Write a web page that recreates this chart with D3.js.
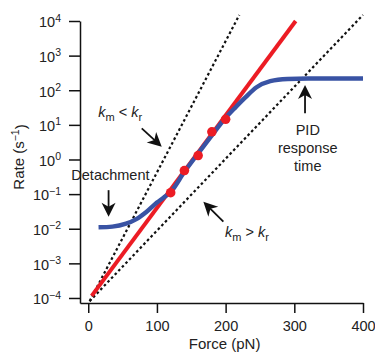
<!DOCTYPE html>
<html>
<head>
<meta charset="utf-8">
<script src="https://cdn.jsdelivr.net/npm/d3@7"></script>
<style>
  body { margin: 0; background: #fff; }
  svg { display: block; font-family: "Liberation Sans", Arial, Helvetica, sans-serif; }
</style>
</head>
<body>
<div id="chart"></div>
<script>
let w = 375;
let h = 354;

let forceTicks = [0, 100, 200, 300, 400];
let rateExps = [-4, -3, -2, -1, 0, 1, 2, 3, 4];

// measured rates (red dots)
let dotForce = [120, 140, 160, 180, 200];
let dotRate = [0.11, 0.48, 1.3, 6.3, 14.5];

// exponential fit through the dots
let fitForce = [5, 302];
let fitRate = [1.15e-4, 1.0e4];

// limiting cases
let fastForce = [2, 220];     // km < kr
let fastRate = [8.1e-5, 1.5e4];
let slowForce = [2, 400];     // km > kr
let slowRate = [8.1e-5, 1.5e4];

// observed rate with detachment floor and PID ceiling
let obsForce = [15, 35, 55, 70, 85, 100, 110, 120, 140, 160, 180, 200, 215, 228, 245, 265, 290, 320, 400];
let obsRate = [0.011, 0.0115, 0.014, 0.019, 0.031, 0.057, 0.08, 0.115, 0.44, 1.5, 5.0, 16, 33, 60, 122, 183, 212, 218, 218];

const svg = d3.select("#chart")
              .append("svg")
              .attr("width", w)
              .attr("height", h)

const x = d3.scaleLinear()
            .domain([-12, 400])
            .range([80, 363])

const y = d3.scaleLog()
            .domain([Math.pow(10, -4.145), 1e4])
            .range([303, 21])

// axes
const xAxis = d3.axisBottom(x)
                .tickValues(forceTicks)
                .tickSize(10)
                .tickSizeOuter(0)
                .tickPadding(8)

const gx = svg.append("g")
   .attr("transform", "translate(0," + y.range()[0] + ")")
   .call(xAxis)
gx.selectAll("text").style("font-size", "14.5px").attr("fill", "#222")

const yAxis = d3.axisLeft(y)
                .tickValues(rateExps.map(e => Math.pow(10, e)))
                .tickSize(11)
                .tickSizeOuter(0)
                .tickPadding(8)
                .tickFormat(() => "")

const gy = svg.append("g")
   .attr("transform", "translate(" + x.range()[0] + ",0)")
   .call(yAxis)

gy.selectAll(".tick text")
  .style("font-size", "14.5px")
  .attr("fill", "#222")
  .attr("dy", "0.4em")
  .each(function(d) {
    let e = Math.round(Math.log10(d));
    let t = d3.select(this);
    t.append("tspan").text("10");
    t.append("tspan")
     .attr("dy", "-0.55em")
     .style("font-size", "10.5px")
     .text(e < 0 ? "\u2212" + (-e) : e);
  })

svg.selectAll(".domain, .tick line")
   .attr("stroke", "#111")
   .attr("stroke-width", 1.5)

// axis titles
svg.append("text")
   .attr("x", x(200) - 1)
   .attr("y", 349)
   .attr("text-anchor", "middle")
   .style("font-size", "15px")
   .attr("fill", "#222")
   .text("Force (pN)")

const yl = svg.append("text")
   .attr("transform", "translate(24,157) rotate(-90)")
   .attr("text-anchor", "middle")
   .style("font-size", "15px")
   .attr("fill", "#222")
yl.append("tspan").text("Rate (s")
yl.append("tspan").attr("dy", "-0.5em").style("font-size", "10.5px").text("\u22121")
yl.append("tspan").attr("dy", "0.5em").text(")")

// lines
const line = d3.line()
               .x(d => x(d[0]))
               .y(d => y(d[1]))

const zipped = (a, b) => a.map((v, i) => [v, b[i]])

svg.selectAll(".limit")
   .data([zipped(fastForce, fastRate), zipped(slowForce, slowRate)])
   .enter()
   .append("path")
   .attr("class", "limit")
   .attr("d", line)
   .attr("fill", "none")
   .attr("stroke", "#111")
   .attr("stroke-width", 2.2)
   .attr("stroke-dasharray", "2.6,2.6")

svg.append("path")
   .attr("d", line(zipped(fitForce, fitRate)))
   .attr("fill", "none")
   .attr("stroke", "#ec1c24")
   .attr("stroke-width", 4)

svg.append("path")
   .attr("d", line.curve(d3.curveMonotoneX)(zipped(obsForce, obsRate)))
   .attr("fill", "none")
   .attr("stroke", "#3953a4")
   .attr("stroke-width", 4.4)

svg.selectAll(".dot")
   .data(zipped(dotForce, dotRate))
   .enter()
   .append("circle")
   .attr("class", "dot")
   .attr("cx", d => x(d[0]))
   .attr("cy", d => y(d[1]))
   .attr("r", 4.8)
   .attr("fill", "#ec1c24")

// annotations (data units)
let arrows = [
  [[29.6, 0.13], [29.6, 0.0222]],
  [[77.9, 7.9], [107, 2.34]],
  [[196.7, 0.016], [167.6, 0.060]],
  [[315.6, 21.6], [315.6, 141.6]]
];

arrows.forEach(a => {
  let x0 = x(a[0][0]), y0 = y(a[0][1]);
  let x1 = x(a[1][0]), y1 = y(a[1][1]);
  let ang = Math.atan2(y1 - y0, x1 - x0);
  let ux = Math.cos(ang), uy = Math.sin(ang);
  svg.append("line")
     .attr("x1", x0).attr("y1", y0)
     .attr("x2", x1 - ux * 9).attr("y2", y1 - uy * 9)
     .attr("stroke", "#111")
     .attr("stroke-width", 1.8)
  svg.append("path")
     .attr("d", "M0,0 L-14,-7 L-10,0 L-14,7 Z")
     .attr("transform", "translate(" + x1 + "," + y1 + ") rotate(" + (ang * 180 / Math.PI) + ")")
     .attr("fill", "#111")
})

const note = (f, r) => svg.append("text")
   .attr("x", x(f))
   .attr("y", y(r))
   .style("font-size", "14.5px")
   .attr("fill", "#222")

note(32.3, 0.26).attr("text-anchor", "middle").text("Detachment")

const kLabel = (t, op) => {
  t.append("tspan").style("font-style", "italic").text("k")
  t.append("tspan").attr("dy", "4").style("font-size", "11px").text("m")
  t.append("tspan").attr("dy", "-4").text(" " + op + " ")
  t.append("tspan").style("font-style", "italic").text("k")
  t.append("tspan").attr("dy", "4").style("font-size", "11px").text("r")
}
kLabel(note(14.7, 17.2), "<")
kLabel(note(199.2, 0.0059), ">")

let pidLines = ["PID", "response", "time"];
const pid = note(319.6, 5.1).attr("text-anchor", "middle")
pid.selectAll("tspan")
   .data(pidLines)
   .enter()
   .append("tspan")
   .attr("x", x(319.6))
   .attr("dy", (d, i) => i === 0 ? 0 : 18)
   .text(d => d)
</script>
</body>
</html>
